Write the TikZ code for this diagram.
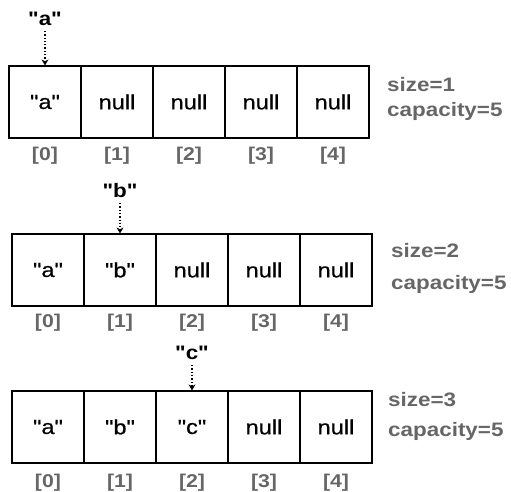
\documentclass[tikz,border=0pt]{standalone}
\usepackage{fontspec}
\setmainfont{Liberation Sans}
\newfontfamily\widesans[FakeStretch=1.15]{Liberation Sans}
\newfontfamily\cellsans[FakeStretch=1.15,FakeBold=0.6]{Liberation Sans}
\usetikzlibrary{arrows.meta}
\definecolor{txtgray}{HTML}{666666}
\newcommand\qq[1]{\char34 #1\char34}
\begin{document}
\begin{tikzpicture}[x=1pt,y=1pt,
  cell/.style={draw=black,line width=1.2pt,minimum width=72pt,minimum height=72pt,inner sep=0pt,font=\cellsans\fontsize{20.5}{24}\selectfont},
  idx/.style={text=txtgray,font=\widesans\bfseries\fontsize{18.5}{21}\selectfont,inner sep=0pt},
  info/.style={text=txtgray,font=\widesans\bfseries\fontsize{19.5}{23}\selectfont,inner sep=0pt,anchor=west},
  lbl/.style={font=\widesans\bfseries\fontsize{19.5}{24}\selectfont,inner sep=0pt,anchor=south},
  ptr/.style={dotted,line width=1.3pt,-{Stealth[length=6pt,width=7pt]},shorten <=5pt}]
\useasboundingbox (0,0) rectangle (511,491);
% row 1
\foreach \i/\t in {0/\qq{a},1/null,2/null,3/null,4/null}{
  \node[cell] (a\i) at (9+36+72*\i,491-102) {\t};
  \node[idx] (ai\i) at (9+36+72*\i,491-156) {[\i]};
}
\node[lbl] (la) at (45,491-26) {\qq{a}};
\draw[ptr] (la.south) -- (a0.north);
\node[info] (as) at (387,491-85) {size=1};
\node[info] (ac) at (387,491-111) {capacity=5};
% row 2
\foreach \i/\t in {0/\qq{a},1/\qq{b},2/null,3/null,4/null}{
  \node[cell] (b\i) at (12+36+72*\i,491-270) {\t};
  \node[idx] (bi\i) at (12+36+72*\i,491-323) {[\i]};
}
\node[lbl] (lb) at (120,491-198) {\qq{b}};
\draw[ptr] (lb.south) -- (b1.north);
\node[info] (bs) at (391,491-251) {size=2};
\node[info] (bc) at (391,491-284) {capacity=5};
% row 3
\foreach \i/\t in {0/\qq{a},1/\qq{b},2/\qq{c},3/null,4/null}{
  \node[cell] (c\i) at (12+36+72*\i,491-427) {\t};
  \node[idx] (ci\i) at (12+36+72*\i,491-483) {[\i]};
}
\node[lbl] (lc) at (192,491-360) {\qq{c}};
\draw[ptr] (lc.south) -- (c2.north);
\node[info] (cs) at (388,491-400) {size=3};
\node[info] (cc) at (388,491-431) {capacity=5};
\end{tikzpicture}
\end{document}
